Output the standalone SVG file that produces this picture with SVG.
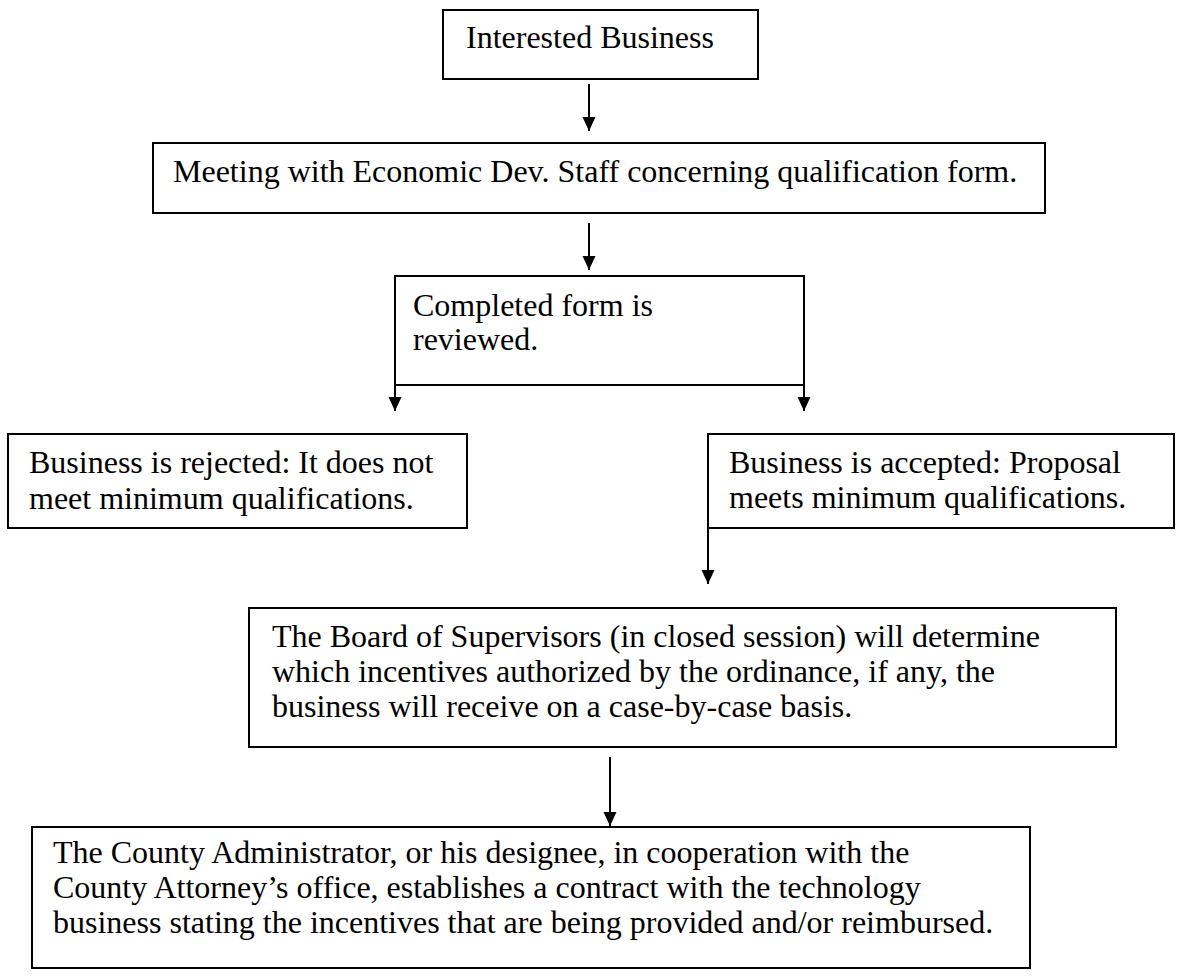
<svg xmlns="http://www.w3.org/2000/svg" width="1178" height="979" viewBox="0 0 1178 979">
  <defs>
    <marker id="arrow" markerUnits="userSpaceOnUse" markerWidth="16" markerHeight="16" viewBox="0 -8 16 16" refX="14" refY="0" orient="auto">
      <path d="M0,-6.5 L14,0 L0,6.5 z" fill="#000"/>
    </marker>
    <style>
      .box { fill: #fff; stroke: #000; stroke-width: 2; }
      .lbl { font-family: "Liberation Serif", "Times New Roman", serif; font-size: 32px; fill: #000; }
      .conn { stroke: #000; stroke-width: 2; fill: none; }
    </style>
  </defs>
  <rect width="1178" height="979" fill="#fff"/>

  <g id="connectors">
    <line class="conn" x1="589" y1="84" x2="589" y2="131" marker-end="url(#arrow)"/>
    <line class="conn" x1="589" y1="223" x2="589" y2="270" marker-end="url(#arrow)"/>
    <line class="conn" x1="395" y1="385" x2="395" y2="411" marker-end="url(#arrow)"/>
    <line class="conn" x1="804" y1="385" x2="804" y2="411" marker-end="url(#arrow)"/>
    <line class="conn" x1="708" y1="528" x2="708" y2="584" marker-end="url(#arrow)"/>
    <line class="conn" x1="610" y1="757" x2="610" y2="826" marker-end="url(#arrow)"/>
  </g>

  <g id="interested-business">
    <rect class="box" x="443" y="10" width="315" height="69"/>
    <text class="lbl" x="466" y="48">Interested Business</text>
  </g>

  <g id="meeting">
    <rect class="box" x="153" y="143" width="892" height="70"/>
    <text class="lbl" x="173" y="182">Meeting with Economic Dev. Staff concerning qualification form.</text>
  </g>

  <g id="review">
    <rect class="box" x="395" y="276" width="409" height="109"/>
    <text class="lbl" x="413" y="316">Completed form is</text>
    <text class="lbl" x="413" y="350">reviewed.</text>
  </g>

  <g id="rejected">
    <rect class="box" x="8" y="434" width="459" height="94"/>
    <text class="lbl" x="29" y="473">Business is rejected: It does not</text>
    <text class="lbl" x="29" y="509">meet minimum qualifications.</text>
  </g>

  <g id="accepted">
    <rect class="box" x="708" y="434" width="466" height="94"/>
    <text class="lbl" x="729" y="473">Business is accepted: Proposal</text>
    <text class="lbl" x="729" y="508">meets minimum qualifications.</text>
  </g>

  <g id="board">
    <rect class="box" x="249" y="608" width="867" height="139"/>
    <text class="lbl" x="272" y="647">The Board of Supervisors (in closed session) will determine</text>
    <text class="lbl" x="272" y="682">which incentives authorized by the ordinance, if any, the</text>
    <text class="lbl" x="272" y="717">business will receive on a case-by-case basis.</text>
  </g>

  <g id="contract">
    <rect class="box" x="32" y="827" width="998" height="141"/>
    <text class="lbl" x="53" y="863">The County Administrator, or his designee, in cooperation with the</text>
    <text class="lbl" x="53" y="898">County Attorney’s office, establishes a contract with the technology</text>
    <text class="lbl" x="53" y="933">business stating the incentives that are being provided and/or reimbursed.</text>
  </g>
</svg>
